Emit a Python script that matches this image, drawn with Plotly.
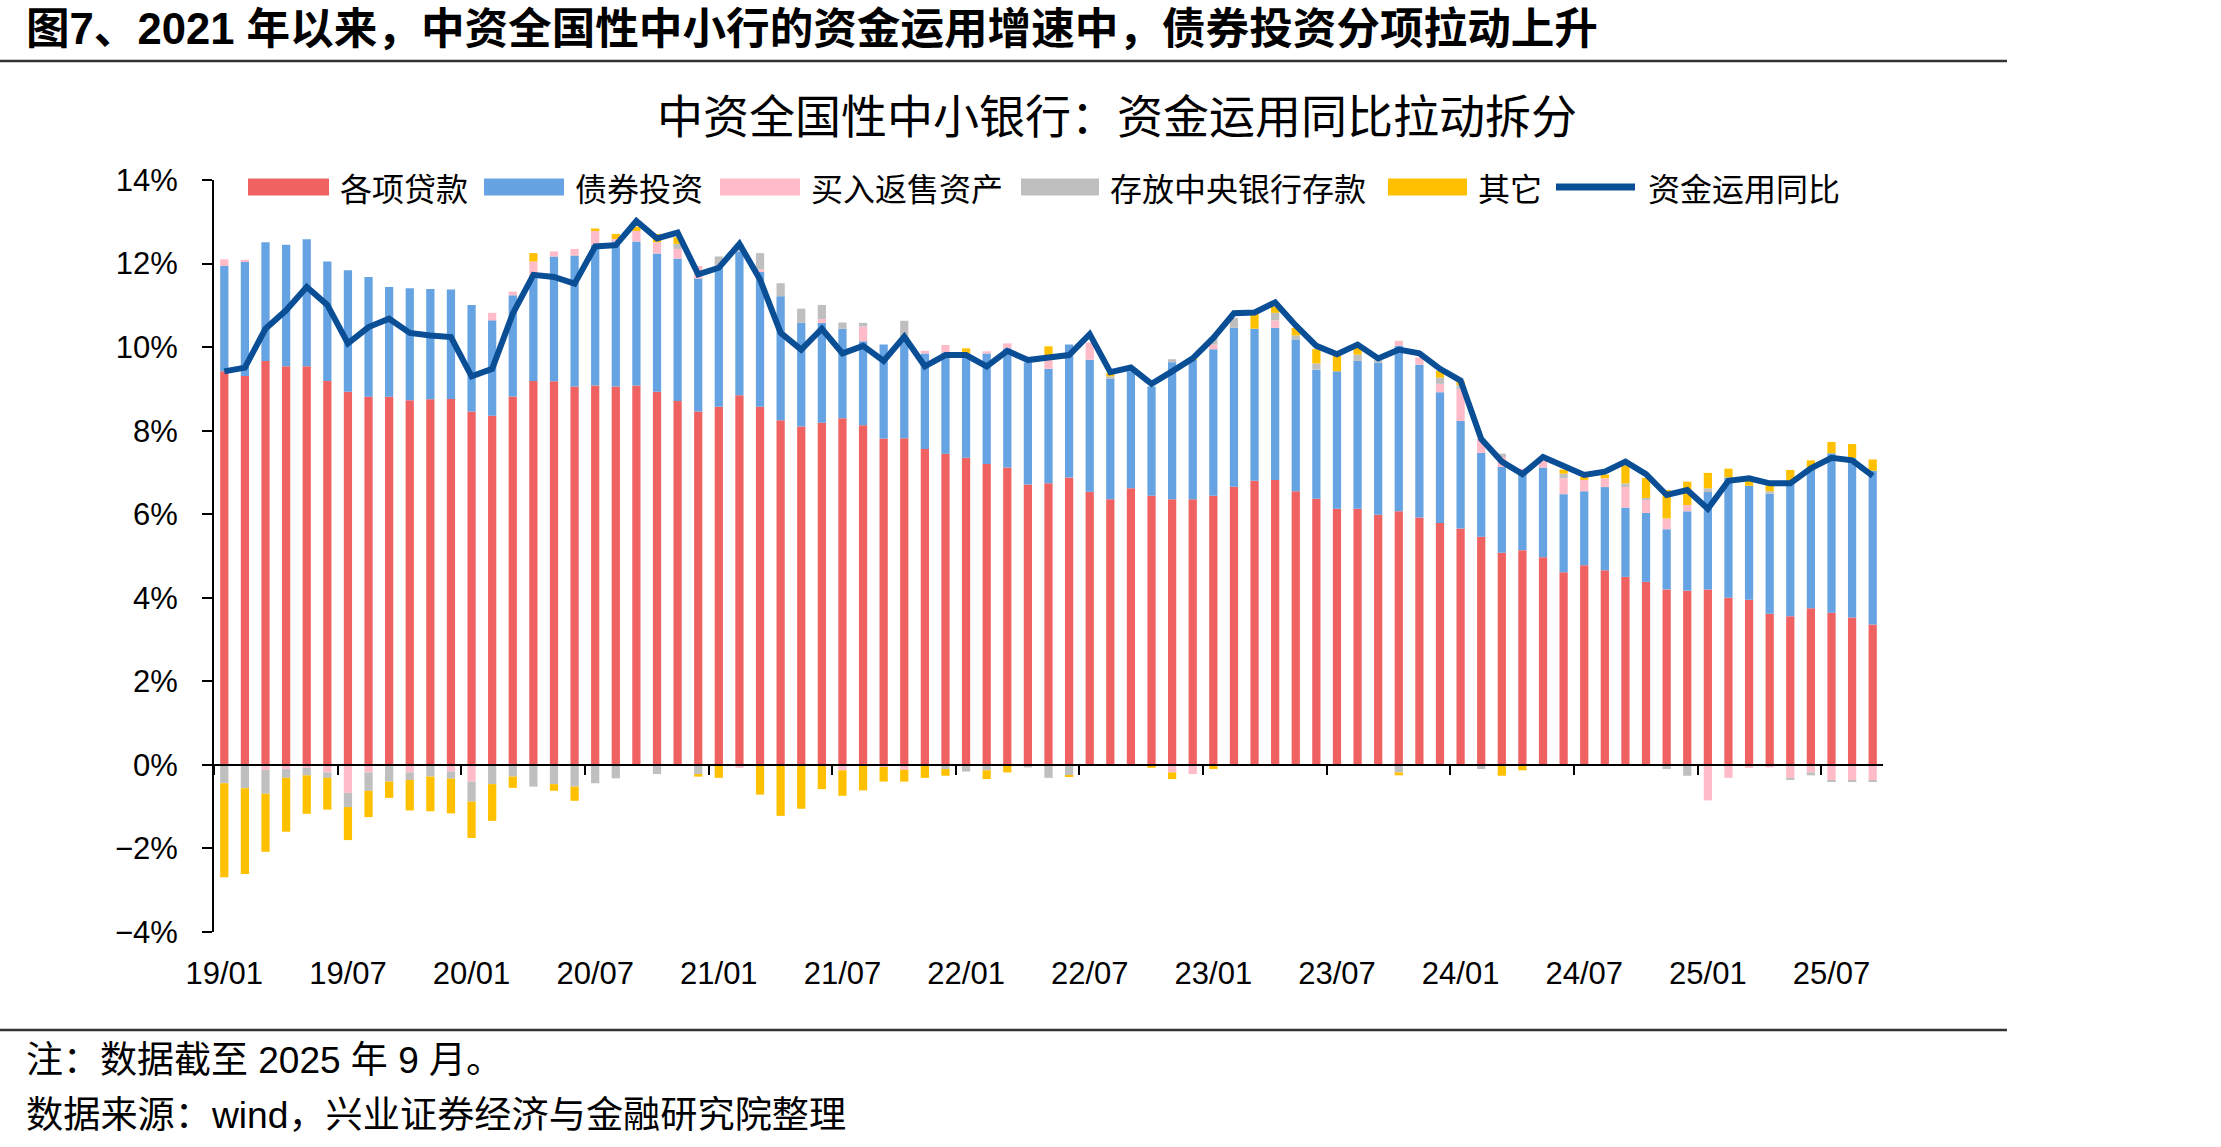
import plotly.graph_objects as go

# ---------------- data ----------------
months = [
    "19/01", "19/02", "19/03", "19/04", "19/05", "19/06", "19/07", "19/08", "19/09", "19/10", "19/11", "19/12",
    "20/01", "20/02", "20/03", "20/04", "20/05", "20/06", "20/07", "20/08", "20/09", "20/10", "20/11", "20/12",
    "21/01", "21/02", "21/03", "21/04", "21/05", "21/06", "21/07", "21/08", "21/09", "21/10", "21/11", "21/12",
    "22/01", "22/02", "22/03", "22/04", "22/05", "22/06", "22/07", "22/08", "22/09", "22/10", "22/11", "22/12",
    "23/01", "23/02", "23/03", "23/04", "23/05", "23/06", "23/07", "23/08", "23/09", "23/10", "23/11", "23/12",
    "24/01", "24/02", "24/03", "24/04", "24/05", "24/06", "24/07", "24/08", "24/09", "24/10", "24/11", "24/12",
    "25/01", "25/02", "25/03", "25/04", "25/05", "25/06", "25/07", "25/08", "25/09",
]

# 各项贷款
loans = [
    9.42, 9.31, 9.67, 9.54, 9.54, 9.19, 8.93, 8.81, 8.81, 8.73, 8.75, 8.76,
    8.46, 8.36, 8.82, 9.19, 9.18, 9.06, 9.08, 9.06, 9.08, 8.93, 8.71, 8.46,
    8.57, 8.85, 8.57, 8.25, 8.10, 8.19, 8.30, 8.13, 7.81, 7.82, 7.56, 7.45,
    7.35, 7.20, 7.12, 6.71, 6.74, 6.88, 6.54, 6.36, 6.62, 6.44, 6.36, 6.36,
    6.44, 6.66, 6.80, 6.82, 6.55, 6.37, 6.13, 6.13, 5.99, 6.07, 5.92, 5.79,
    5.66, 5.46, 5.08, 5.14, 4.97, 4.61, 4.78, 4.66, 4.50, 4.38, 4.20, 4.17,
    4.20, 4.00, 3.95, 3.62, 3.56, 3.75, 3.64, 3.53, 3.36,
]
# 债券投资
bonds = [
    2.52, 2.74, 2.84, 2.91, 3.04, 2.86, 2.91, 2.87, 2.63, 2.68, 2.64, 2.62,
    2.55, 2.28, 2.42, 2.49, 2.99, 3.13, 3.36, 3.47, 3.45, 3.31, 3.41, 3.18,
    3.33, 3.44, 3.23, 2.97, 2.48, 2.39, 2.14, 2.01, 2.25, 2.42, 2.29, 2.42,
    2.50, 2.65, 2.85, 2.92, 2.74, 3.18, 3.16, 2.88, 2.80, 2.62, 3.28, 3.33,
    3.51, 3.80, 3.64, 3.64, 3.63, 3.09, 3.29, 3.54, 3.64, 3.96, 3.66, 3.13,
    2.57, 2.01, 2.05, 1.88, 2.15, 1.87, 1.77, 1.99, 1.66, 1.65, 1.44, 1.90,
    2.33, 2.88, 2.73, 2.87, 3.17, 3.32, 3.82, 3.82, 3.68,
]
# 买入返售资产
reverse_repo = [
    0.16, 0.04, -0.12, -0.10, -0.07, -0.18, -0.67, -0.18, 0.00, -0.18, 0.00, -0.16,
    -0.40, 0.18, 0.09, 0.37, 0.12, 0.16, 0.34, 0.06, 0.25, 0.27, 0.23, 0.30,
    0.00, -0.07, 0.06, 0.00, 0.00, 0.09, -0.13, 0.35, -0.05, -0.12, 0.06, 0.18,
    0.00, 0.05, 0.12, 0.00, 0.21, 0.00, 0.41, 0.00, 0.00, 0.00, -0.18, -0.22,
    0.11, 0.00, 0.00, 0.18, 0.00, 0.00, 0.00, 0.00, 0.00, 0.12, 0.17, 0.20,
    0.77, 0.33, 0.24, 0.07, 0.15, 0.38, 0.27, 0.21, 0.49, 0.31, 0.26, 0.15,
    -0.85, -0.31, -0.07, -0.06, -0.31, -0.18, -0.38, -0.38, -0.37,
]
# 存放中央银行存款
cb_deposits = [
    -0.44, -0.56, -0.57, -0.21, -0.18, -0.13, -0.34, -0.44, -0.40, -0.18, -0.28, -0.17,
    -0.48, -0.46, -0.28, -0.52, -0.46, -0.52, -0.44, -0.32, 0.00, -0.22, 0.12, -0.22,
    0.27, 0.18, 0.39, 0.31, 0.34, 0.34, 0.15, 0.09, 0.00, 0.39, 0.00, -0.10,
    -0.16, -0.13, 0.00, -0.06, -0.31, -0.26, 0.00, 0.06, 0.00, 0.00, 0.07, 0.00,
    0.18, 0.24, 0.00, 0.18, 0.10, 0.15, 0.00, 0.15, 0.06, -0.18, 0.00, 0.15,
    0.09, -0.10, 0.08, 0.00, 0.00, 0.11, 0.00, 0.00, 0.09, 0.05, -0.10, -0.26,
    0.09, 0.00, 0.00, 0.06, -0.05, -0.07, -0.03, -0.02, -0.02,
]
# 其它
others = [
    -2.25, -2.05, -1.39, -1.29, -0.92, -0.76, -0.79, -0.63, -0.39, -0.73, -0.83, -0.83,
    -0.87, -0.88, -0.27, 0.20, -0.16, -0.34, 0.06, 0.12, 0.10, 0.20, 0.16, -0.06,
    -0.31, 0.00, -0.71, -1.22, -1.05, -0.58, -0.61, -0.61, -0.35, -0.28, -0.31, -0.16,
    0.12, -0.21, -0.18, 0.00, 0.33, -0.02, 0.00, 0.08, 0.00, -0.07, -0.16, 0.05,
    -0.10, 0.00, 0.37, 0.15, 0.18, 0.34, 0.37, 0.16, 0.00, -0.07, 0.00, 0.16,
    0.10, 0.00, -0.26, -0.13, 0.00, 0.10, 0.07, 0.09, 0.43, 0.48, 0.68, 0.56,
    0.37, 0.21, 0.21, 0.24, 0.33, 0.22, 0.27, 0.33, 0.27,
]
# 资金运用同比
total_yoy = [
    9.42, 9.51, 10.44, 10.88, 11.44, 11.01, 10.09, 10.48, 10.68, 10.34, 10.28, 10.24,
    9.30, 9.48, 10.80, 11.73, 11.68, 11.52, 12.41, 12.44, 13.02, 12.60, 12.74, 11.74,
    11.90, 12.47, 11.62, 10.34, 9.94, 10.44, 9.85, 10.03, 9.67, 10.25, 9.54, 9.81,
    9.81, 9.54, 9.91, 9.69, 9.75, 9.81, 10.31, 9.40, 9.51, 9.12, 9.42, 9.73,
    10.22, 10.81, 10.83, 11.07, 10.52, 10.03, 9.83, 10.06, 9.73, 9.94, 9.85, 9.48,
    9.20, 7.80, 7.26, 6.96, 7.37, 7.14, 6.94, 7.02, 7.26, 6.96, 6.46, 6.58,
    6.13, 6.80, 6.86, 6.74, 6.74, 7.10, 7.35, 7.29, 6.92,
]

y_ticks = [-4, -2, 0, 2, 4, 6, 8, 10, 12, 14]
y_ticktext = [(f"\u2212{abs(v)}%" if v < 0 else f"{v}%") for v in y_ticks]

bar_series = [
    ("各项贷款", loans, "#F06262"),
    ("债券投资", bonds, "#66A3E2"),
    ("买入返售资产", reverse_repo, "#FFBBC7"),
    ("存放中央银行存款", cb_deposits, "#BFBFBF"),
    ("其它", others, "#FFC000"),
]
line_name = "资金运用同比"
line_color = "#0A4E96"

# ---------------- layout geometry ----------------
W, H = 2221, 1147
ML, MR, MT, MB = 214, 338, 180, 215
PW = W - ML - MR
PH = H - MT - MB


def px(xp):
    return (xp - ML) / PW


def py(yp):
    return (H - MB - yp) / PH


CJK = "Noto Sans CJK SC, sans-serif"
LAT = "Liberation Sans, Arial, Noto Sans CJK SC, sans-serif"

x_idx = list(range(len(months)))
ymin, ymax = y_ticks[0], y_ticks[-1]

fig = go.Figure()
for name, vals, col in bar_series:
    fig.add_trace(go.Bar(
        x=x_idx, y=vals, name=name, customdata=months,
        marker=dict(color=col, line=dict(width=0)),
        showlegend=False,
        hovertemplate="%{customdata}<br>" + name + ": %{y:.2f}%<extra></extra>",
    ))
fig.add_trace(go.Scatter(
    x=x_idx, y=total_yoy, name=line_name, mode="lines", customdata=months,
    line=dict(color=line_color, width=6),
    xaxis="x2", yaxis="y", showlegend=False,
    hovertemplate="%{customdata}<br>" + line_name + ": %{y:.2f}%<extra></extra>",
))

label_idx = list(range(0, len(months), 6))

fig.update_layout(
    width=W, height=H,
    margin=dict(l=ML, r=MR, t=MT, b=MB, pad=0),
    paper_bgcolor="white", plot_bgcolor="white",
    barmode="relative", bargap=0.6,
    showlegend=False,
    font=dict(family=LAT, color="#000000"),
    xaxis=dict(
        range=[-0.5, len(months) - 0.5],
        tickmode="array", tickvals=label_idx, ticktext=[months[i] for i in label_idx],
        ticks="", ticklabelstandoff=20,
        showline=False, showgrid=False, zeroline=False,
        tickfont=dict(family=LAT, size=31, color="#000000"),
    ),
    xaxis2=dict(
        overlaying="x", matches="x", anchor="free", side="bottom",
        position=(0 - ymin) / (ymax - ymin),
        range=[-0.5, len(months) - 0.5],
        tickmode="array", tickvals=[i - 0.5 for i in label_idx],
        ticks="outside", ticklen=9, tickwidth=2, tickcolor="#000000",
        showticklabels=False,
        showline=True, linecolor="#000000", linewidth=2,
        showgrid=False, zeroline=False,
    ),
    yaxis=dict(
        range=[ymin, ymax],
        tickmode="array", tickvals=y_ticks, ticktext=y_ticktext,
        ticks="outside", ticklen=10, tickwidth=2, tickcolor="#000000",
        ticklabelstandoff=18,
        showline=True, linecolor="#000000", linewidth=2,
        showgrid=False, zeroline=False,
        tickfont=dict(family=LAT, size=31, color="#000000"),
    ),
)

shapes = []
annotations = []

# horizontal rules
for yy in (61, 1030):
    shapes.append(dict(type="line", xref="paper", yref="paper",
                       x0=px(0), x1=px(2007), y0=py(yy), y1=py(yy),
                       line=dict(color="#333333", width=2.5)))

# titles and notes
annotations.append(dict(
    text="<b>图7、2021 年以来，中资全国性中小行的资金运用增速中，债券投资分项拉动上升</b>",
    xref="paper", yref="paper", x=px(24), y=py(29), xanchor="left", yanchor="middle",
    showarrow=False, font=dict(family=LAT, size=43.6, color="#000000")))
annotations.append(dict(
    text="中资全国性中小银行：资金运用同比拉动拆分",
    xref="paper", yref="paper", x=px(1117), y=py(113), xanchor="center", yanchor="middle",
    showarrow=False, font=dict(family=CJK, size=46, color="#000000")))
annotations.append(dict(
    text="注：数据截至 2025 年 9 月。",
    xref="paper", yref="paper", x=px(24), y=py(1060), xanchor="left", yanchor="middle",
    showarrow=False, font=dict(family=LAT, size=37, color="#000000")))
annotations.append(dict(
    text="数据来源：wind，兴业证券经济与金融研究院整理",
    xref="paper", yref="paper", x=px(24), y=py(1115), xanchor="left", yanchor="middle",
    showarrow=False, font=dict(family=LAT, size=37.2, color="#000000")))

# legend (drawn manually to match the wide swatches)
leg_y = 187
swatch_x = [(248, 329), (484, 564), (720, 800), (1021, 1099), (1388, 1467)]
for (name, _, col), (x0, x1) in zip(bar_series, swatch_x):
    shapes.append(dict(type="rect", xref="paper", yref="paper",
                       x0=px(x0), x1=px(x1), y0=py(leg_y + 8.5), y1=py(leg_y - 8.5),
                       fillcolor=col, line=dict(width=0)))
    annotations.append(dict(text=name, xref="paper", yref="paper",
                            x=px(x1 + 9), y=py(leg_y), xanchor="left", yanchor="middle",
                            showarrow=False, font=dict(family=CJK, size=32, color="#000000")))
shapes.append(dict(type="line", xref="paper", yref="paper",
                   x0=px(1556), x1=px(1635), y0=py(leg_y), y1=py(leg_y),
                   line=dict(color=line_color, width=7)))
annotations.append(dict(text=line_name, xref="paper", yref="paper",
                        x=px(1646), y=py(leg_y), xanchor="left", yanchor="middle",
                        showarrow=False, font=dict(family=CJK, size=32, color="#000000")))

fig.update_layout(shapes=shapes, annotations=annotations)

fig.write_html("out.html")
